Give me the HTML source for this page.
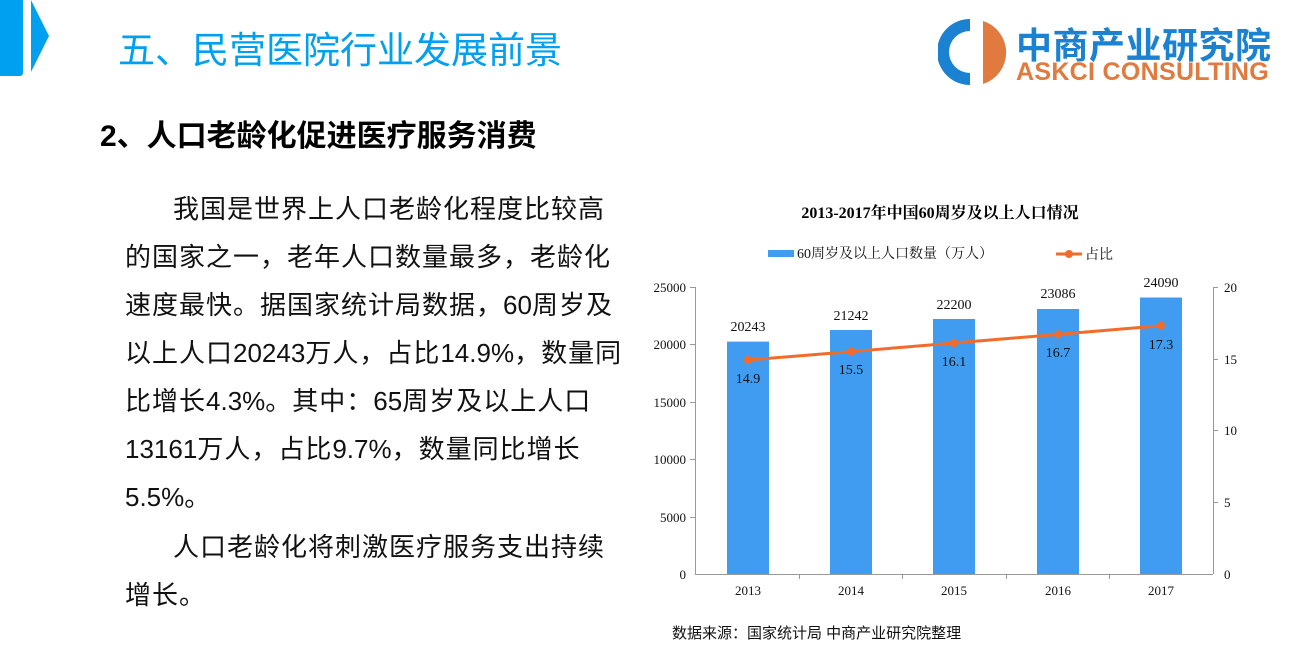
<!DOCTYPE html>
<html><head><meta charset="utf-8"><style>
body{margin:0;width:1302px;height:654px;background:#fff;overflow:hidden;position:relative;font-family:"Liberation Sans","Noto Sans CJK SC",sans-serif}
.t{position:absolute;white-space:nowrap}
.p div{height:48px;white-space:nowrap}
.p b{font-weight:normal;letter-spacing:0}
</style></head><body>
<div style="position:absolute;left:0;top:0;width:23px;height:76px;background:#00a0f0;border-radius:0 0 3px 0"></div>
<svg class="t" style="left:30px;top:0" width="22" height="76"><polygon points="1,0 19,36 1,72" fill="#00a0f0"/></svg>
<div class="t" style="left:118px;top:20px;font-size:37px;color:#00a0f0">五、民营医院行业发展前景</div>
<svg class="t" style="left:938px;top:18px" width="70" height="70"><path d="M32,1 A33,33 0 0 0 32,67 L32,55 A21,21 0 0 1 32,13 Z" fill="#1a82d0"/><path d="M45,3 A33,33 0 0 1 45,66 Z" fill="#e07a3e"/></svg>
<div class="t" style="left:1016px;top:17px;font-size:36px;font-weight:bold;color:#1a82d0;letter-spacing:0.5px">中商产业研究院</div>
<div class="t" style="left:1016px;top:58px;font-size:25px;font-weight:bold;color:#e07a3e;letter-spacing:0.3px">ASKCI CONSULTING</div>
<div class="t" style="left:100px;top:111px;font-size:30px;font-weight:bold;color:#000">2、人口老龄化促进医疗服务消费</div>
<div class="p" style="position:absolute;left:125px;top:185px;font-size:26px;line-height:48px;color:#111;letter-spacing:1px">
<div style="padding-left:48px">我国是世界上人口老龄化程度比较高</div>
<div>的国家之一，老年人口数量最多，老龄化</div>
<div>速度最快。据国家统计局数据，<b>60</b>周岁及</div>
<div>以上人口<b>20243</b>万人，占比<b>14.9%</b>，数量同</div>
<div>比增长<b>4.3%</b>。其中：<b>65</b>周岁及以上人口</div>
<div><b>13161</b>万人，占比<b>9.7%</b>，数量同比增长</div>
<div><b>5.5%</b>。</div>
<div style="padding-left:48px;margin-top:2px">人口老龄化将刺激医疗服务支出持续</div>
<div>增长。</div>
</div>
<svg class="t" style="left:0;top:0" width="1302" height="654" font-family="Liberation Serif, Noto Serif CJK SC, serif" font-size="13">
<text x="940" y="218" font-size="16" font-weight="bold" text-anchor="middle" fill="#000">2013-2017年中国60周岁及以上人口情况</text>
<rect x="768" y="250" width="26" height="7" fill="#409cf0"/>
<text x="797" y="258" font-size="14" fill="#111">60周岁及以上人口数量（万人）</text>
<line x1="1056" y1="254" x2="1082" y2="254" stroke="#f26b2a" stroke-width="3"/><circle cx="1069" cy="254" r="4" fill="#f26b2a"/>
<text x="1085" y="259" font-size="14" fill="#111">占比</text>
<g stroke="#999" stroke-width="1">
<line x1="695.5" y1="287" x2="695.5" y2="574"/><line x1="1213.5" y1="287" x2="1213.5" y2="574"/><line x1="695" y1="574.5" x2="1213" y2="574.5"/>
<line x1="690" y1="287.5" x2="695" y2="287.5"/><line x1="690" y1="344.5" x2="695" y2="344.5"/><line x1="690" y1="402.5" x2="695" y2="402.5"/><line x1="690" y1="459.5" x2="695" y2="459.5"/><line x1="690" y1="517.5" x2="695" y2="517.5"/>
<line x1="1213" y1="287.5" x2="1218" y2="287.5"/><line x1="1213" y1="359.5" x2="1218" y2="359.5"/><line x1="1213" y1="430.5" x2="1218" y2="430.5"/><line x1="1213" y1="502.5" x2="1218" y2="502.5"/>
<line x1="799.5" y1="574" x2="799.5" y2="579"/><line x1="902.5" y1="574" x2="902.5" y2="579"/><line x1="1006.5" y1="574" x2="1006.5" y2="579"/><line x1="1109.5" y1="574" x2="1109.5" y2="579"/>
</g>
<g text-anchor="end" fill="#111"><text x="686" y="292">25000</text><text x="686" y="349">20000</text><text x="686" y="407">15000</text><text x="686" y="464">10000</text><text x="686" y="522">5000</text><text x="686" y="579">0</text></g>
<g fill="#111"><text x="1224" y="292">20</text><text x="1224" y="364">15</text><text x="1224" y="435">10</text><text x="1224" y="507">5</text><text x="1224" y="579">0</text></g>
<g fill="#409cf0"><rect x="727" y="341.6" width="42" height="232.4"/><rect x="830" y="330" width="42" height="244"/><rect x="933" y="319" width="42" height="255"/><rect x="1037" y="309" width="42" height="265"/><rect x="1140" y="297.5" width="42" height="276.5"/></g>
<g text-anchor="middle" fill="#111" font-size="14"><text x="748" y="331">20243</text><text x="851" y="320">21242</text><text x="954" y="309">22200</text><text x="1058" y="298">23086</text><text x="1161" y="287">24090</text>
<text x="748" y="383">14.9</text><text x="851" y="374">15.5</text><text x="954" y="366">16.1</text><text x="1058" y="357">16.7</text><text x="1161" y="349">17.3</text></g>
<polyline points="748,360 851,351.6 954,343 1058,334.4 1161,325.7" fill="none" stroke="#f26b2a" stroke-width="3"/>
<g fill="#f26b2a"><circle cx="748" cy="360" r="4"/><circle cx="851" cy="351.6" r="4"/><circle cx="954" cy="343" r="4"/><circle cx="1058" cy="334.4" r="4"/><circle cx="1161" cy="325.7" r="4"/></g>
<g text-anchor="middle" fill="#111"><text x="748" y="595">2013</text><text x="851" y="595">2014</text><text x="954" y="595">2015</text><text x="1058" y="595">2016</text><text x="1161" y="595">2017</text></g>
<text x="672" y="638" font-family="Liberation Sans, Noto Sans CJK SC, sans-serif" font-size="15" fill="#111">数据来源：国家统计局 中商产业研究院整理</text>
</svg>
</body></html>
